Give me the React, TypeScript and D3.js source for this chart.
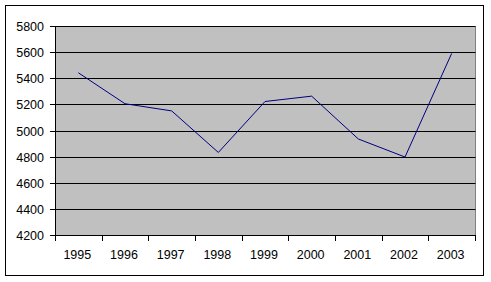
import React from "react";
import * as d3 from "d3";

const years = ["1995", "1996", "1997", "1998", "1999", "2000", "2001", "2002", "2003"];
const values = [5442, 5205, 5150, 4832, 5222, 5263, 4935, 4797, 5590];
const yTicks = [4200, 4400, 4600, 4800, 5000, 5200, 5400, 5600, 5800];

const W = 491;
const H = 282;
const plot = { left: 55, top: 26, right: 475, bottom: 235 };
const font = "'Liberation Sans', Arial, sans-serif";

export default function App() {
  const x = d3.scaleBand<string>().domain(years).range([plot.left, plot.right]);
  const y = d3.scaleLinear().domain([4200, 5800]).range([plot.bottom, plot.top]);
  const py = (v: number) => Math.round(y(v)) + 0.5;
  const line = d3
    .line<number>()
    .x((_, i) => (x(years[i]) as number) + x.bandwidth() / 2)
    .y((d) => y(d));
  const boundaries = years.map((yr) => x(yr) as number).concat([plot.right]);

  return (
    <div style={{ position: "fixed", left: 0, top: 0 }}>
      <svg width={W} height={H} style={{ display: "block" }}>
        <rect x={0} y={0} width={W} height={H} fill="#fff" />
        <rect x={5.5} y={5.5} width={478} height={270} fill="#fff" stroke="#000" strokeWidth={1} />
        <rect
          x={plot.left + 0.5}
          y={plot.top + 0.5}
          width={plot.right - plot.left}
          height={plot.bottom - plot.top}
          fill="#c0c0c0"
          stroke="#808080"
          strokeWidth={1}
        />
        {yTicks.map((t) => (
          <g key={t}>
            {t > 4200 && (
              <line x1={plot.left} x2={plot.right + 0.5} y1={py(t)} y2={py(t)} stroke="#000" strokeWidth={1} />
            )}
            <line x1={plot.left - 5} x2={plot.left} y1={py(t)} y2={py(t)} stroke="#000" strokeWidth={1} />
            <text
              x={44}
              y={py(t)}
              dy={4.5}
              textAnchor="end"
              fontFamily={font}
              fontSize={12.5}
              fill="#000"
            >
              {t}
            </text>
          </g>
        ))}
        <line x1={plot.left + 0.5} x2={plot.left + 0.5} y1={plot.top} y2={plot.bottom + 1} stroke="#000" />
        <line x1={plot.left} x2={plot.right + 1} y1={plot.bottom + 0.5} y2={plot.bottom + 0.5} stroke="#000" />
        {boundaries.map((b, i) => (
          <line
            key={i}
            x1={Math.round(b) + 0.5}
            x2={Math.round(b) + 0.5}
            y1={plot.bottom}
            y2={plot.bottom + 6}
            stroke="#000"
          />
        ))}
        {years.map((yr) => (
          <text
            key={yr}
            x={(x(yr) as number) + x.bandwidth() / 2 - 1}
            y={259}
            textAnchor="middle"
            fontFamily={font}
            fontSize={12.5}
            fill="#000"
          >
            {yr}
          </text>
        ))}
        <path d={line(values) || ""} fill="none" stroke="#000080" strokeWidth={1} />
      </svg>
    </div>
  );
}
